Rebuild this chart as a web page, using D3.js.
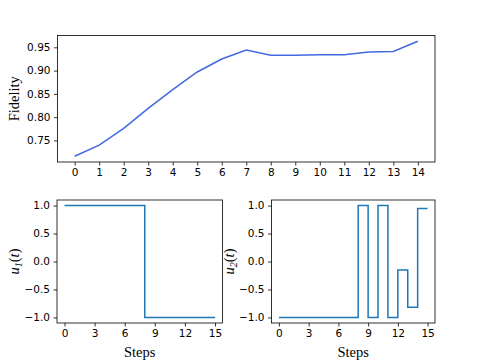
<!DOCTYPE html>
<html>
<head>
<meta charset="utf-8">
<script src="https://cdn.jsdelivr.net/npm/d3@7"></script>
<style>
  body { margin: 0; background: #fff; }
  svg { display: block; }
  .tick text { font-family: "DejaVu Sans", sans-serif; font-size: 10.5px; fill: #000; }
  .tick line { stroke: #000; stroke-width: 0.8; }
  .label { font-family: "Liberation Serif", "Times New Roman", serif; font-size: 14.5px; fill: #000; }
</style>
</head>
<body>
<div id="chart"></div>
<script>
// Fidelity per step
const fidSteps = d3.range(0, 15);
const fidelity = [0.716, 0.740, 0.776, 0.819, 0.859, 0.897, 0.925, 0.944, 0.933, 0.933, 0.934, 0.934, 0.940, 0.941, 0.963];
const fidTicks = [0.75, 0.80, 0.85, 0.90, 0.95];

// Controls (step 'post'), 16 points 0..15
const ctrlSteps = d3.range(0, 16);
const u1 = [1, 1, 1, 1, 1, 1, 1, 1, -1, -1, -1, -1, -1, -1, -1, -1];
const u2 = [-1, -1, -1, -1, -1, -1, -1, -1, 1, -1, 1, -1, -0.15, -0.82, 0.95, 0.95];
const ctrlXTicks = [0, 3, 6, 9, 12, 15];
const ctrlYTicks = [-1.0, -0.5, 0.0, 0.5, 1.0];

const W = 484, H = 363;
const svg = d3.select('#chart').append('svg').attr('width', W).attr('height', H);

function frame(g, x0, x1, y0, y1) {
    g.append('rect')
        .attr('x', x0).attr('y', y0)
        .attr('width', x1 - x0).attr('height', y1 - y0)
        .attr('fill', 'none').attr('stroke', '#000').attr('stroke-width', 0.8);
}

function styleAxis(g) {
    g.select('.domain').remove();
    g.selectAll('.tick line').attr('stroke', '#000');
}

// ---- Top panel ----
const topBox = { l: 57.5, r: 435, t: 35.5, b: 162 };
const xTop = d3.scaleLinear().domain([-0.7, 14.7]).range([topBox.l, topBox.r]);
const yTop = d3.scaleLinear().domain([0.7037, 0.9754]).range([topBox.b, topBox.t]);
const gTop = svg.append('g');

gTop.append('g').attr('transform', `translate(0,${topBox.b})`)
    .call(d3.axisBottom(xTop).tickValues(fidSteps).tickSize(3.5).tickPadding(3.5).tickFormat(d3.format('d')))
    .call(styleAxis);
gTop.append('g').attr('transform', `translate(${topBox.l},0)`)
    .call(d3.axisLeft(yTop).tickValues(fidTicks).tickSize(3.5).tickPadding(3.5).tickFormat(d3.format('.2f')))
    .call(styleAxis);

gTop.append('path')
    .datum(fidSteps.map((s, i) => [s, fidelity[i]]))
    .attr('fill', 'none').attr('stroke', '#4169e1').attr('stroke-width', 1.5)
    .attr('d', d3.line().x(d => xTop(d[0])).y(d => yTop(d[1])));
frame(gTop, topBox.l, topBox.r, topBox.t, topBox.b);

gTop.append('text').attr('class', 'label')
    .attr('transform', `translate(19,${(topBox.t + topBox.b) / 2}) rotate(-90)`)
    .attr('text-anchor', 'middle').text('Fidelity');

// ---- Bottom panels ----
function ctrlPanel(box, values, sub, labelX) {
    const x = d3.scaleLinear().domain([-0.75, 15.75]).range([box.l, box.r]);
    const y = d3.scaleLinear().domain([-1.1, 1.1]).range([box.b, box.t]);
    const g = svg.append('g');
    g.append('g').attr('transform', `translate(0,${box.b})`)
        .call(d3.axisBottom(x).tickValues(ctrlXTicks).tickSize(3.5).tickPadding(3.5).tickFormat(d3.format('d')))
        .call(styleAxis);
    g.append('g').attr('transform', `translate(${box.l},0)`)
        .call(d3.axisLeft(y).tickValues(ctrlYTicks).tickSize(3.5).tickPadding(3.5)
            .tickFormat(d => d3.format('.1f')(d).replace('-', '\u2212')))
        .call(styleAxis);
    g.append('path')
        .datum(ctrlSteps.map((s, i) => [s, values[i]]))
        .attr('fill', 'none').attr('stroke', '#1f77b4').attr('stroke-width', 1.5)
        .attr('d', d3.line().curve(d3.curveStepAfter).x(d => x(d[0])).y(d => y(d[1])));
    frame(g, box.l, box.r, box.t, box.b);

    const lab = g.append('text').attr('class', 'label')
        .attr('transform', `translate(${labelX},${(box.t + box.b) / 2}) rotate(-90)`)
        .attr('text-anchor', 'middle');
    lab.append('tspan').attr('font-style', 'italic').text('u');
    lab.append('tspan').attr('font-size', '10px').attr('font-style', 'italic').attr('dy', 3).text(sub);
    lab.append('tspan').attr('dy', -3).text('(');
    lab.append('tspan').attr('font-style', 'italic').text('t');
    lab.append('tspan').text(')');

    g.append('text').attr('class', 'label')
        .attr('x', (box.l + box.r) / 2).attr('y', 357)
        .attr('text-anchor', 'middle').text('Steps');
}

ctrlPanel({ l: 57, r: 222.5, t: 200, b: 323 }, u1, '1', 19);
ctrlPanel({ l: 271.5, r: 435, t: 200, b: 323 }, u2, '2', 234);
</script>
</body>
</html>
